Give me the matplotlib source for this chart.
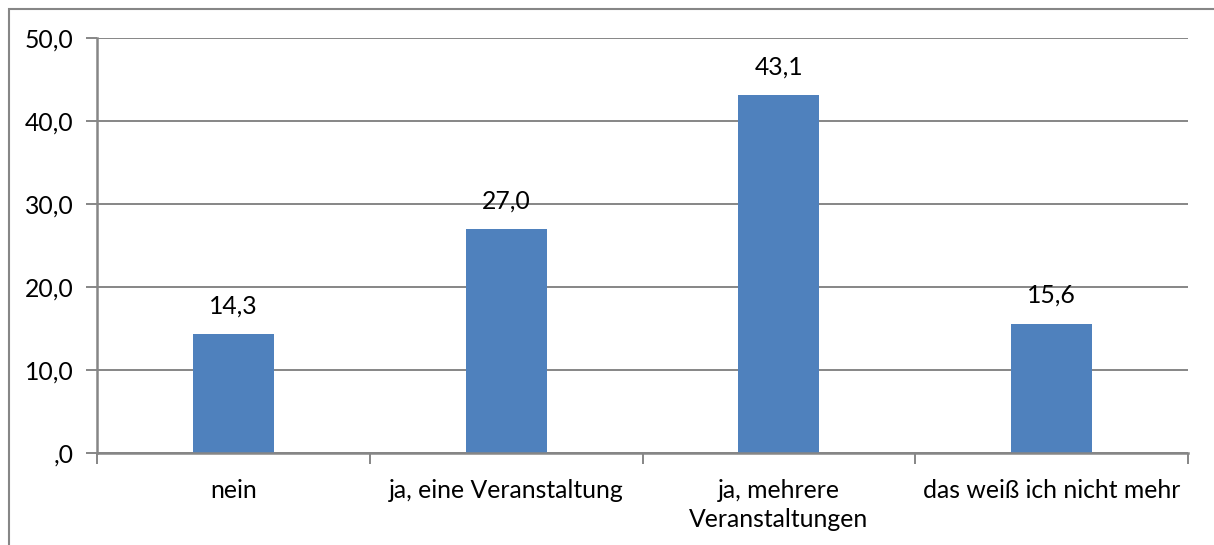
import matplotlib
matplotlib.use("Agg")
import matplotlib.pyplot as plt
from matplotlib.patches import Rectangle
from matplotlib.ticker import FuncFormatter

categories = ["nein", "ja, eine Veranstaltung", "ja, mehrere\nVeranstaltungen", "das weiß ich nicht mehr"]
values = [14.3, 27.0, 43.1, 15.6]
yticks = [0, 10, 20, 30, 40, 50]

plt.rcParams['font.family'] = ['Lato', 'DejaVu Sans']
W, H = 1214, 545
fig = plt.figure(figsize=(W/100, H/100), dpi=100)
ax = fig.add_axes([97/W, 1-453/H, (1188-97)/W, (453-38)/H])

fs = 17.8
gray = "#868686"
x = list(range(len(categories)))
ax.bar(x, values, width=0.297, color="#4F81BD", zorder=3)
ax.set_xlim(-0.5, len(categories)-0.5)
ax.set_ylim(0, 50)
ax.set_yticks(yticks)
ax.yaxis.set_major_formatter(FuncFormatter(lambda v, p: (f"{v:.1f}".replace(".", ",") if v != 0 else ",0")))
ax.grid(axis='y', color=gray, linewidth=1.4, zorder=0)
ax.set_xticks(x)
ax.set_xticklabels(categories, fontsize=fs, linespacing=1.3)
ax.set_xticks([i - 0.5 for i in range(len(categories)+1)], minor=True)
ax.tick_params(axis='x', which='major', length=0, pad=19)
ax.tick_params(axis='x', which='minor', length=8, color=gray, width=1.4, direction='out')
ax.tick_params(axis='y', length=8, color=gray, width=1.4, pad=9, labelsize=fs)
for s in ['top', 'right']:
    ax.spines[s].set_visible(False)
for s in ['left', 'bottom']:
    ax.spines[s].set_color(gray)
    ax.spines[s].set_linewidth(1.8)
    ax.spines[s].set_zorder(4)

for xi, v in zip(x, values):
    ax.annotate(f"{v:.1f}".replace(".", ","), (xi, v), xytext=(0, 12), textcoords='offset points',
                ha='center', va='bottom', fontsize=fs)

fig.patches.append(Rectangle((9/W, -0.1), 1.2, 1 - 9/H + 0.1, transform=fig.transFigure,
                             fill=False, edgecolor=gray, linewidth=1.5))
fig.savefig("out.png", dpi=100)
